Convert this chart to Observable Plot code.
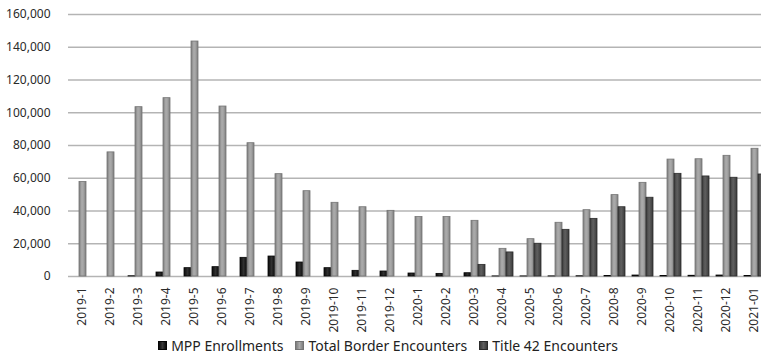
<!DOCTYPE html>
<html>
<head>
<meta charset="utf-8">
<script src="https://cdn.jsdelivr.net/npm/d3@7"></script>
<script src="https://cdn.jsdelivr.net/npm/@observablehq/plot@0.6"></script>
<style>
  html, body { margin: 0; padding: 0; background: #fff; overflow: hidden; }
  #wrap { width: 761px; height: 357px; overflow: hidden; position: relative; font-family: "Noto Sans", sans-serif; }
  #chart { width: 761px; height: 336px; overflow: hidden; }
  #chart svg { max-width: none !important; font-family: "Noto Sans", sans-serif !important; }
  #chart svg text { font-family: "Noto Sans", sans-serif; }
  #legend { position: absolute; left: 0; top: 335px; width: 776px; height: 20px; display: flex; justify-content: center; align-items: center; font-size: 14px; color: #222; white-space: nowrap; }
  .item { display: flex; align-items: center; margin: 0 6px; }
  .sw { width: 9px; height: 9px; margin-right: 4px; box-sizing: border-box; }
</style>
</head>
<body>
<div id="wrap">
  <div id="chart"></div>
  <div id="legend"></div>
</div>
<script>
const months = ["2019-1","2019-2","2019-3","2019-4","2019-5","2019-6","2019-7","2019-8","2019-9","2019-10","2019-11","2019-12",
                "2020-1","2020-2","2020-3","2020-4","2020-5","2020-6","2020-7","2020-8","2020-9","2020-10","2020-11","2020-12","2021-01"];
const seriesNames = ["MPP Enrollments", "Total Border Encounters", "Title 42 Encounters"];
const mpp     = [0, 0, 150, 2440, 5090, 5700, 11400, 12200, 8550, 5080, 3460, 3050,
                 1830, 1600, 2000, 60, 60, 80, 150, 350, 600, 250, 450, 600, 350];
const total   = [57700, 75800, 103400, 108900, 143500, 103800, 81400, 62500, 52100, 45000, 42300, 40100,
                 36300, 36300, 34000, 16900, 22800, 32800, 40500, 49700, 57200, 71400, 71600, 73700, 78000];
const title42 = [0, 0, 0, 0, 0, 0, 0, 0, 0, 0, 0, 0,
                 0, 0, 7100, 14700, 20000, 28500, 35200, 42300, 48100, 62700, 61100, 60300, 62300];
const yTicks = [0, 20000, 40000, 60000, 80000, 100000, 120000, 140000, 160000];

const valuesBySeries = [mpp, total, title42];
const rows = months.flatMap((m, i) => seriesNames.map((s, j) => ({month: m, series: s, value: valuesBySeries[j][i]})));

const styles = [
  {fill: "url(#gMPP)", stroke: "#050505"},
  {fill: "url(#gTotal)", stroke: "#747474"},
  {fill: "url(#gT42)", stroke: "#2c2c2c"}
];

const plot = Plot.plot({
  width: 776,
  height: 336,
  marginTop: 14,
  marginBottom: 60,
  marginLeft: 60,
  marginRight: 0,
  facet: {marginLeft: 0, marginRight: 0, marginTop: 0, marginBottom: 0},
  style: {fontFamily: "'Noto Sans', sans-serif", fontSize: "12px", color: "#2a2a2a", background: "#fff", maxWidth: "none"},
  fx: {domain: months, padding: 0, paddingInner: 0, paddingOuter: 0, label: null},
  x: {domain: seriesNames, paddingInner: 0, paddingOuter: 0.5, axis: null},
  y: {domain: [0, 160000], label: null},
  marks: [
    Plot.ruleY(yTicks, {stroke: "#b4b4b4", strokeWidth: 1.5}),
    ...seriesNames.map((s, j) => Plot.barY(rows, {
      filter: d => d.series === s && d.value > 0,
      fx: "month", x: "series", y: "value",
      fill: styles[j].fill, stroke: styles[j].stroke, strokeWidth: 0.8
    })),
    Plot.axisY({ticks: yTicks, tickFormat: d3.format(","), tickSize: 0, tickPadding: 18, label: null, fill: "#2a2a2a"}),
    Plot.axisFx({anchor: "bottom", tickRotate: -90, tickSize: 0, tickPadding: 11, label: null, fill: "#2a2a2a"})
  ]
});

// gradient definitions for the bevelled bar look
const ns = "http://www.w3.org/2000/svg";
const defs = document.createElementNS(ns, "defs");
const grads = {
  gMPP:   [["0", "#0a0a0a"], ["0.5", "#303030"], ["1", "#0a0a0a"]],
  gTotal: [["0", "#7c7c7c"], ["0.4", "#ababab"], ["0.6", "#a6a6a6"], ["1", "#7e7e7e"]],
  gT42:   [["0", "#3c3c3c"], ["0.45", "#606060"], ["1", "#3a3a3a"]]
};
for (const [id, stops] of Object.entries(grads)) {
  const g = document.createElementNS(ns, "linearGradient");
  g.setAttribute("id", id);
  g.setAttribute("x1", "0"); g.setAttribute("x2", "1"); g.setAttribute("y1", "0"); g.setAttribute("y2", "0");
  for (const [o, c] of stops) {
    const st = document.createElementNS(ns, "stop");
    st.setAttribute("offset", o);
    st.setAttribute("stop-color", c);
    g.appendChild(st);
  }
  defs.appendChild(g);
}
plot.insertBefore(defs, plot.firstChild);
plot.style.maxWidth = "none";
document.getElementById("chart").appendChild(plot);

// legend
const legendBg = [
  "linear-gradient(90deg,#0a0a0a,#383838,#0a0a0a)",
  "linear-gradient(90deg,#7c7c7c,#ababab,#7e7e7e)",
  "linear-gradient(90deg,#3c3c3c,#606060,#3a3a3a)"
];
const legend = document.getElementById("legend");
seriesNames.forEach((s, j) => {
  const item = document.createElement("div");
  item.className = "item";
  const sw = document.createElement("span");
  sw.className = "sw";
  sw.style.background = legendBg[j];
  sw.style.border = "1px solid " + styles[j].stroke;
  const t = document.createElement("span");
  t.textContent = s;
  item.appendChild(sw);
  item.appendChild(t);
  legend.appendChild(item);
});
</script>
</body>
</html>
